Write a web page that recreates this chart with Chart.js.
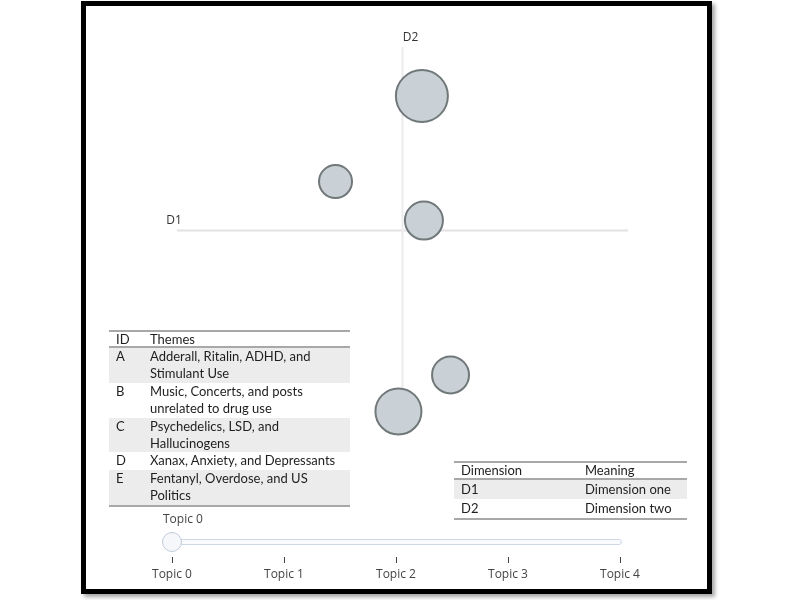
<!DOCTYPE html>
<html>
<head>
<meta charset="utf-8">
<script src="https://cdn.jsdelivr.net/npm/chart.js@4/dist/chart.umd.min.js"></script>
<style>
    body { margin: 0; background: #fff; }
    #wrap { position: relative; width: 800px; height: 600px; overflow: hidden; background: #fff; }
    #frame { position: absolute; left: 81px; top: 1px; width: 621px; height: 583px; border: 5.5px solid #000;
             box-shadow: 3px 3px 4px rgba(0,0,0,0.35); }
    #chartBox { position: absolute; left: 0; top: 0; width: 800px; height: 600px; }
    table.tbl { position: absolute; border-collapse: collapse; font-family: Lato, "Noto Sans", sans-serif;
                font-size: 13px; color: #1e1e1e; }
    table.tbl td { padding: 0 0 0 7px; vertical-align: top; white-space: pre; line-height: 17.4px; }
    table.tbl tr.head td { border-top: 2px solid #a8a8a8; border-bottom: 2px solid #a8a8a8; }
    table.tbl tr.last td { border-bottom: 2px solid #a8a8a8; }
    table.tbl tr.shade td { background: #ececec; }
    .plotTxt { position: absolute; font-family: "Open Sans", sans-serif; font-size: 12px; color: #444; white-space: nowrap; }
    #track { position: absolute; left: 164px; top: 539px; width: 456px; height: 4px; border: 1px solid #d0dae6;
             border-radius: 3px; background: #f8fafc; }
    #handle { position: absolute; left: 162px; top: 532px; width: 18px; height: 18px; border: 1px solid #bfcad8;
              border-radius: 50%; background: #f5f7fa; }
    .tick { position: absolute; top: 557px; width: 1px; height: 6px; background: #444; }
</style>
</head>
<body>
<div id="wrap">
    <div id="frame"></div>
    <div id="chartBox"><canvas id="chartTopicos"></canvas></div>
</div>
<script>
// ==========================================
// DADOS DO GRÁFICO
// ==========================================
const topicNames = ["Topic 0", "Topic 1", "Topic 2", "Topic 3", "Topic 4"];
const d1Values = [0.086, -0.297, 0.095, 0.213, -0.018];
const d2Values = [0.733, 0.267, 0.054, -0.787, -0.986];
const topicSizes = [26, 16.5, 19, 18.5, 23];

// tabelas de legenda
const themeIds = ["A", "B", "C", "D", "E"];
const themeTexts = [
    "Adderall, Ritalin, ADHD, and\nStimulant Use",
    "Music, Concerts, and posts\nunrelated to drug use",
    "Psychedelics, LSD, and\nHallucinogens",
    "Xanax, Anxiety, and Depressants",
    "Fentanyl, Overdose, and US\nPolitics"
];
const dimNames = ["D1", "D2"];
const dimMeanings = ["Dimension one", "Dimension two"];
const sliderLabels = ["Topic 0", "Topic 1", "Topic 2", "Topic 3", "Topic 4"];

const wrap = document.getElementById("wrap");

// ==========================================
// EIXOS CRUZADOS D1 / D2
// ==========================================
const eixosCruzados = {
    id: "eixosCruzados",
    beforeDatasetsDraw(chart) {
        const { ctx, scales: { x, y } } = chart;
        const x0 = x.getPixelForValue(0);
        const y0 = y.getPixelForValue(0);
        ctx.save();
        ctx.lineWidth = 2;
        ctx.strokeStyle = "#e2e2e2";
        ctx.beginPath();
        ctx.moveTo(x.getPixelForValue(-1), y0);
        ctx.lineTo(x.getPixelForValue(1), y0);
        ctx.stroke();
        ctx.strokeStyle = "#ececec";
        ctx.beginPath();
        ctx.moveTo(x0, y.getPixelForValue(1));
        ctx.lineTo(x0, y.getPixelForValue(-1));
        ctx.stroke();
        ctx.font = '12px "Open Sans"';
        ctx.fillStyle = "#333";
        ctx.textAlign = "center";
        ctx.textBaseline = "middle";
        ctx.fillText("D1", x.getPixelForValue(-1) - 3, y0 - 10);
        ctx.fillText("D2", x0 + 8, y.getPixelForValue(1) - 9);
        ctx.restore();
    }
};

new Chart(document.getElementById("chartTopicos"), {
    type: "bubble",
    data: {
        datasets: [{
            label: "Topics",
            data: topicNames.map((n, i) => ({ x: d1Values[i], y: d2Values[i], r: topicSizes[i] })),
            backgroundColor: "rgb(201,209,214)",
            borderColor: "rgb(112,120,122)",
            borderWidth: 2,
            clip: false
        }]
    },
    options: {
        responsive: true,
        maintainAspectRatio: false,
        animation: false,
        layout: { padding: { left: 177, right: 172, top: 47, bottom: 186 } },
        scales: {
            x: { type: "linear", min: -1, max: 1, display: false },
            y: { type: "linear", min: -1, max: 1, display: false }
        },
        plugins: { legend: { display: false }, tooltip: { enabled: false } }
    },
    plugins: [eixosCruzados]
});

// ==========================================
// TABELAS
// ==========================================
function montarTabela(left, top, widths, header, col1, col2, headH, rowH) {
    const t = document.createElement("table");
    t.className = "tbl";
    t.style.left = left + "px";
    t.style.top = top + "px";
    const hs = `height:${headH}px;line-height:${headH}px`;
    let html = `<tr class="head"><td style="width:${widths[0]}px;${hs}">${header[0]}</td><td style="width:${widths[1]}px;${hs}">${header[1]}</td></tr>`;
    col1.forEach((c, i) => {
        const cls = [i % 2 === 0 ? "shade" : "", i === col1.length - 1 ? "last" : ""].join(" ");
        const h = rowH ? `style="height:${rowH}px;line-height:${rowH}px"` : "";
        html += `<tr class="${cls}"><td ${h}>${c}</td><td ${h}>${col2[i]}</td></tr>`;
    });
    t.innerHTML = html;
    wrap.appendChild(t);
}
montarTabela(109, 330, [27, 200], ["ID", "Themes"], themeIds, themeTexts, 14, null);
montarTabela(454, 461, [117, 102], ["Dimension", "Meaning"], dimNames, dimMeanings, 15, 19);

// ==========================================
// SLIDER
// ==========================================
const lblAtual = document.createElement("div");
lblAtual.className = "plotTxt";
lblAtual.style.left = "163px";
lblAtual.style.top = "510px";
lblAtual.textContent = sliderLabels[0];
wrap.appendChild(lblAtual);

const track = document.createElement("div");
track.id = "track";
wrap.appendChild(track);
const handle = document.createElement("div");
handle.id = "handle";
wrap.appendChild(handle);

sliderLabels.forEach((s, i) => {
    const px = 172 + i * (620 - 172) / (sliderLabels.length - 1);
    const tk = document.createElement("div");
    tk.className = "tick";
    tk.style.left = (px - 0.5) + "px";
    wrap.appendChild(tk);
    const lb = document.createElement("div");
    lb.className = "plotTxt";
    lb.style.left = px + "px";
    lb.style.top = "565px";
    lb.style.transform = "translateX(-50%)";
    lb.textContent = s;
    wrap.appendChild(lb);
});
</script>
</body>
</html>
